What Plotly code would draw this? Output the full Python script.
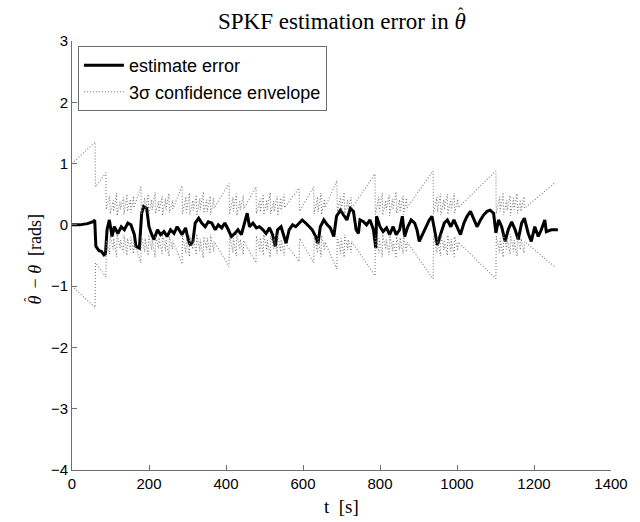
import plotly.graph_objects as go

# ---- data ----
err_t = [0, 20, 40, 55, 59, 62, 70, 76, 83, 87, 91, 97, 104, 110, 119, 128, 136, 145, 153, 162,
         166, 175, 181, 186, 194, 200, 206, 213, 222, 230, 239, 247, 256, 265, 273, 286, 295, 301,
         307, 314, 320, 329, 337, 346, 354, 363, 372, 380, 389, 397, 406, 414, 423, 431, 440, 449,
         455, 461, 470, 479, 487, 496, 504, 513, 521, 528, 534, 543, 551, 556, 564, 573, 581, 590,
         598, 607, 615, 624, 633, 639, 645, 654, 663, 671,
         680, 687, 697, 705, 714, 723, 731, 738, 744, 748, 757, 765, 774, 783, 789, 791, 800, 808,
         817, 825, 834, 842, 851, 858, 864, 872, 881, 890, 896, 902, 911, 919, 928, 935, 941, 949,
         958, 967, 975, 984, 992, 1001, 1009, 1018, 1026, 1035, 1044, 1052, 1061, 1069, 1078, 1086,
         1095, 1101, 1108, 1116, 1125, 1133, 1142, 1151, 1159, 1168, 1175, 1185, 1193, 1202, 1211,
         1219, 1228, 1232, 1245, 1262]
err_v = [0.0, 0.0, 0.02, 0.05, 0.08, -0.35, -0.42, -0.43, -0.49, -0.47, -0.08, 0.08, -0.19, -0.03,
         -0.14, -0.03, -0.08, 0.03, 0.0, -0.16, -0.35, -0.38, 0.19, 0.30, 0.27, -0.03, -0.14, -0.24,
         -0.08, -0.16, -0.11, -0.19, -0.08, -0.14, -0.03, -0.16, -0.05, -0.22, -0.33, -0.27, 0.03,
         0.11, 0.03, -0.03, 0.05, 0.03, -0.08, 0.0, -0.05, 0.03, -0.08, -0.19, -0.14, -0.08, -0.16,
         0.03, 0.19, -0.03, 0.03, -0.05, -0.03, -0.08, -0.14, -0.05, -0.16, -0.35, -0.08, -0.03,
         -0.19, -0.30, -0.08, 0.0, -0.03, 0.03, 0.08, 0.03, -0.03, -0.08, -0.19, -0.30, -0.03, 0.08,
         0.0, -0.05,
         -0.19, 0.14, 0.24, 0.16, 0.08, 0.27, 0.22, -0.08, -0.14, 0.08, 0.05, 0.0, 0.08, -0.08,
         -0.38, 0.14, -0.03, -0.11, -0.05, -0.16, -0.03, -0.16, -0.08, 0.14, -0.19, -0.03, 0.08,
         0.03, -0.08, -0.27, -0.14, -0.03, 0.08, 0.14, -0.08, -0.33, -0.14, 0.03, 0.08, -0.03, 0.08,
         -0.05, -0.16, 0.03, 0.14, 0.22, 0.08, -0.03, 0.08, 0.16, 0.22, 0.24, 0.19, -0.13, 0.08,
         -0.03, -0.27, -0.08, 0.05, -0.08, -0.24, 0.03, 0.11, -0.14, -0.27, -0.03, -0.19, -0.08,
         0.08, -0.11, -0.08, -0.08]

# 3-sigma envelope (upper half; the lower half mirrors it)
env_t = [0, 60, 61, 88, 89,
         98, 99, 107, 108, 116, 117, 125, 126, 134, 135, 143, 144, 152, 153, 160, 161, 179, 180,
         189, 190, 198, 199, 207, 208, 216, 217, 225, 226, 234, 235, 243, 244, 252, 253, 261, 262, 286, 287,
         296, 297, 305, 306, 314, 315, 323, 324, 332, 333, 341, 342, 350, 351, 359, 360, 368, 369, 408, 409,
         418, 419, 427, 428, 436, 437, 445, 446, 478, 479,
         488, 489, 497, 498, 506, 507, 515, 516, 524, 525, 533, 534, 542, 543, 551, 552, 590, 591, 628, 629,
         638, 639, 647, 648, 656, 657, 688, 689,
         698, 699, 707, 708, 716, 717, 725, 726, 787, 788,
         797, 798, 806, 807, 815, 816, 824, 825, 833, 834, 842, 843, 851, 852, 860, 861, 869, 870, 938, 939,
         948, 949, 957, 958, 966, 967, 975, 976, 984, 985, 993, 994, 1002, 1003, 1101, 1102,
         1111, 1112, 1120, 1121, 1129, 1130, 1138, 1139, 1147, 1148, 1156, 1157, 1165, 1166, 1174, 1175, 1253]
env_v = [1.00, 1.35, 0.62, 0.85, 0.25,
         0.48, 0.18, 0.40, 0.22, 0.52, 0.15, 0.38, 0.25, 0.45, 0.17, 0.50, 0.22, 0.42, 0.20, 0.47, 0.28, 0.62, 0.18,
         0.44, 0.22, 0.50, 0.16, 0.41, 0.24, 0.53, 0.18, 0.39, 0.21, 0.47, 0.15, 0.43, 0.25, 0.51, 0.19, 0.40, 0.26, 0.64, 0.18,
         0.46, 0.20, 0.52, 0.17, 0.40, 0.23, 0.49, 0.15, 0.43, 0.24, 0.54, 0.19, 0.41, 0.21, 0.47, 0.16, 0.44, 0.27, 0.68, 0.17,
         0.45, 0.22, 0.51, 0.15, 0.40, 0.24, 0.48, 0.26, 0.62, 0.18,
         0.43, 0.21, 0.50, 0.16, 0.41, 0.25, 0.53, 0.18, 0.39, 0.22, 0.47, 0.15, 0.44, 0.24, 0.50, 0.28, 0.60, 0.22, 0.62, 0.18,
         0.46, 0.21, 0.52, 0.17, 0.42, 0.28, 0.72, 0.19,
         0.47, 0.22, 0.53, 0.16, 0.41, 0.24, 0.45, 0.27, 0.83, 0.17,
         0.46, 0.22, 0.52, 0.16, 0.40, 0.24, 0.49, 0.15, 0.43, 0.25, 0.54, 0.19, 0.41, 0.21, 0.47, 0.17, 0.44, 0.28, 0.88, 0.18,
         0.45, 0.21, 0.51, 0.16, 0.41, 0.25, 0.50, 0.17, 0.43, 0.23, 0.52, 0.19, 0.42, 0.28, 0.88, 0.18,
         0.46, 0.22, 0.53, 0.16, 0.40, 0.24, 0.48, 0.15, 0.44, 0.25, 0.51, 0.19, 0.41, 0.22, 0.46, 0.27, 0.68]

x_ticks = [0, 200, 400, 600, 800, 1000, 1200, 1400]
y_ticks = [-4, -3, -2, -1, 0, 1, 2, 3]

# theta with a hat placed over it (hat glyph raised and pulled back over the theta)
hat_theta = '<span style="letter-spacing:-0.34em"><i>θ</i></span><sup>ˆ</sup>'
title_text = "SPKF estimation error in " + hat_theta
xlabel_text = "t  [s]"
ylabel_text = hat_theta + "  − <i>θ</i>  [rads]"
legend_names = ["estimate error", "3σ confidence envelope"]

# ---- figure ----
fig = go.Figure()
env_x = env_t + [None] + env_t
env_y = env_v + [None] + [-v for v in env_v]
fig.add_trace(go.Scatter(x=err_t, y=err_v, mode="lines", name=legend_names[0],
                         line=dict(color="black", width=3)))
fig.add_trace(go.Scatter(x=env_x, y=env_y, mode="lines", name=legend_names[1],
                         line=dict(color="#7a7a7a", width=1.1, dash="1px,2px")))

W, H = 640, 522
L, R, T, B = 72, 23, 41, 52
axis_col = "#6e6e6e"
tick_font = dict(family="Liberation Sans, Arial, sans-serif", size=15, color="black")
serif = "Liberation Serif, Times New Roman, serif"
ph = H - T - B
pw = W - L - R

fig.update_layout(
    width=W, height=H,
    margin=dict(l=L, r=R, t=T, b=B),
    paper_bgcolor="white", plot_bgcolor="white",
    showlegend=True,
    legend=dict(x=0.011, y=0.988, xanchor="left", yanchor="top",
                bgcolor="white", bordercolor=axis_col, borderwidth=1,
                font=dict(family="Liberation Sans, Arial, sans-serif", size=18, color="black"),
                tracegroupgap=0, itemwidth=40),
    xaxis=dict(range=[0, 1400], tickvals=x_ticks, ticks="inside", ticklen=5,
               tickcolor=axis_col, showline=True, linecolor=axis_col, linewidth=1,
               showgrid=False, zeroline=False, tickfont=tick_font),
    yaxis=dict(range=[-4, 3], tickvals=y_ticks, ticks="inside", ticklen=5,
               tickcolor=axis_col, showline=True, linecolor=axis_col, linewidth=1,
               showgrid=False, zeroline=False, tickfont=tick_font),
    annotations=[
        dict(text=title_text, xref="paper", yref="paper", x=0.5, y=(H - 20 - B) / ph,
             xanchor="center", yanchor="middle", showarrow=False,
             font=dict(family=serif, size=23, color="black")),
        dict(text=xlabel_text, xref="paper", yref="paper", x=0.5, y=-(506 - (H - B)) / ph,
             xanchor="center", yanchor="middle", showarrow=False,
             font=dict(family=serif, size=19, color="black")),
        dict(text=ylabel_text, xref="paper", yref="paper", x=-(L - 33) / pw,
             y=((H - B) - 259) / ph,
             xanchor="center", yanchor="middle", showarrow=False, textangle=-90,
             font=dict(family=serif, size=18, color="black")),
    ],
)

fig.write_html("out.html")
